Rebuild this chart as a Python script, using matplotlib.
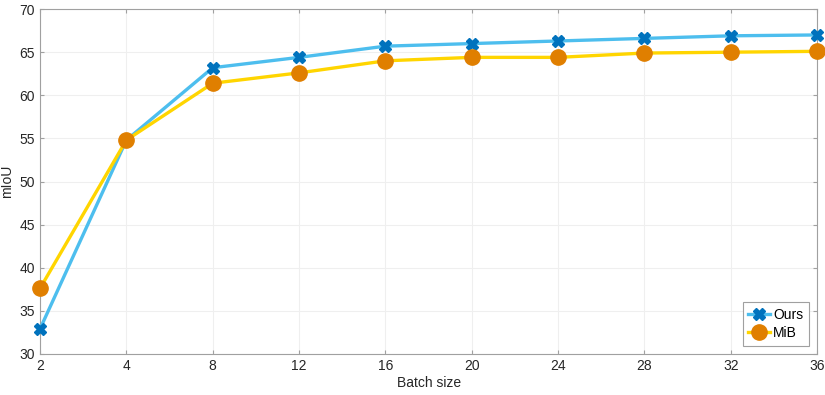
import numpy as np
import matplotlib.pyplot as plt

plt.rcParams['font.family'] = ['Liberation Sans', 'DejaVu Sans']

# data
batch_sizes = ['2', '4', '8', '12', '16', '20', '24', '28', '32', '36']
ours = [32.9, 54.8, 63.2, 64.4, 65.7, 66.0, 66.3, 66.6, 66.9, 67.0]
mib = [37.6, 54.8, 61.4, 62.6, 64.0, 64.4, 64.4, 64.9, 65.0, 65.1]

fig = plt.figure(figsize=(8.25, 3.95), dpi=100)
ax = fig.add_axes([0.0485, 0.104, 0.942, 0.873])

x = np.arange(len(batch_sizes))
ax.plot(x, ours, color='#4DBEEE', lw=2.4, marker='X', markersize=9,
        markerfacecolor='#0072BD', markeredgecolor='#0072BD', label='Ours',
        zorder=3, clip_on=False)
ax.plot(x, mib, color='#FFD500', lw=2.4, marker='o', markersize=11,
        markerfacecolor='#E07F00', markeredgecolor='#E07F00', label='MiB',
        zorder=4, clip_on=False)

ax.set_xlim(0, len(x) - 1)
ax.set_ylim(30, 70)
ax.set_xticks(x)
ax.set_xticklabels(batch_sizes)
ax.set_yticks(np.arange(30, 71, 5))
ax.grid(True, color='#efefef', lw=0.8)
ax.set_axisbelow(True)
for s in ax.spines.values():
    s.set_color('#a0a0a0')
    s.set_linewidth(0.8)
ax.tick_params(direction='in', length=3, color='#a0a0a0', labelsize=10,
               labelcolor='#262626', top=True, right=True)
ax.set_xlabel('Batch size', fontsize=10, color='#262626', labelpad=2)
ax.set_ylabel('mIoU', fontsize=10, color='#262626', labelpad=4)

leg = ax.legend(loc='lower right', fontsize=10, handlelength=1.6, handletextpad=0.2,
                borderpad=0.4, fancybox=False, framealpha=1, edgecolor='#a0a0a0',
                labelspacing=0.3, borderaxespad=0.6)
leg.get_frame().set_linewidth(0.8)

fig.savefig('out.png', dpi=100)
